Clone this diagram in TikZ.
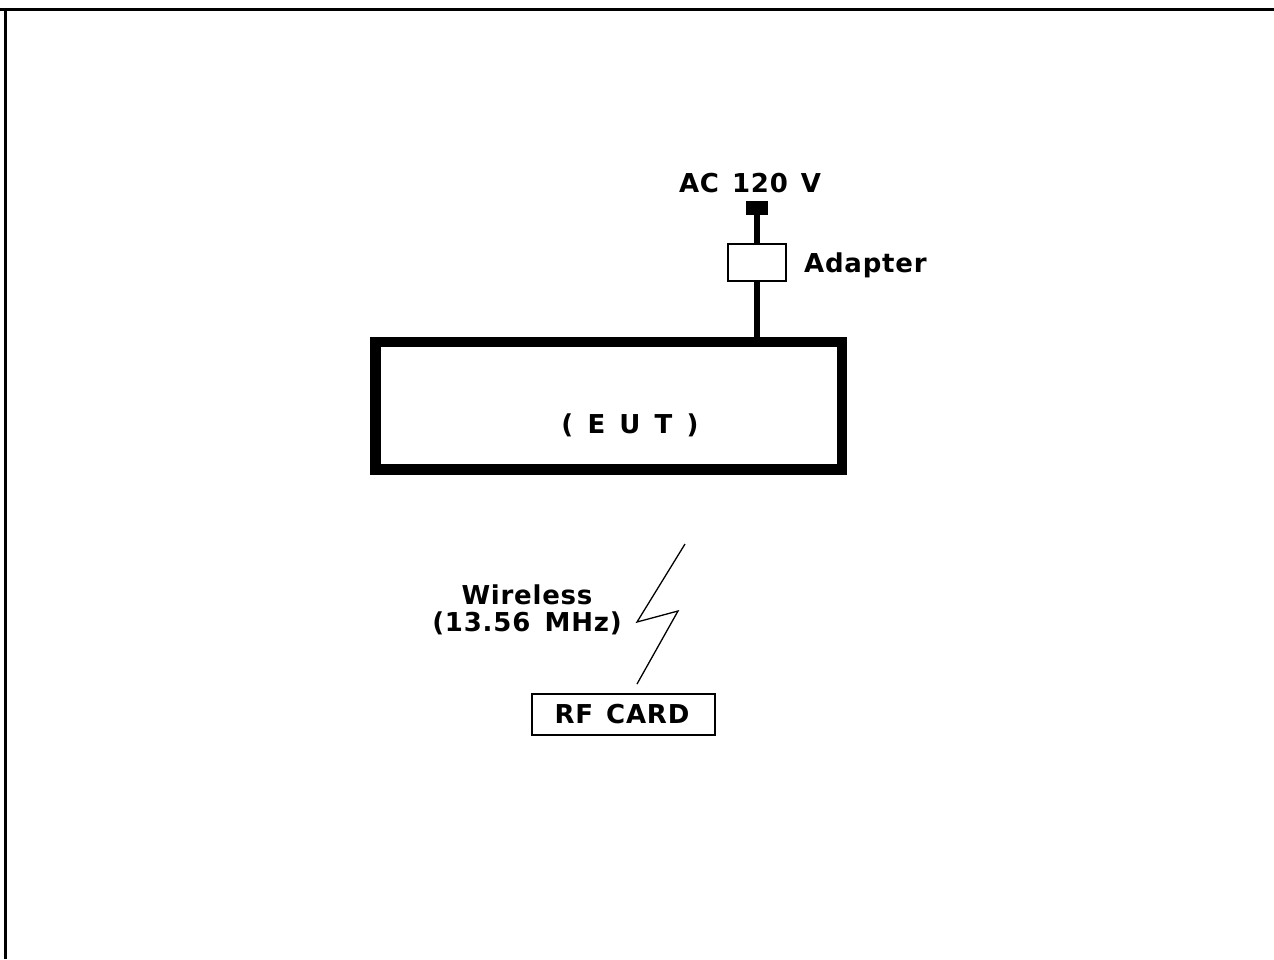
\documentclass[tikz,border=0pt]{standalone}
\usepackage{fontspec}
\setmainfont[LetterSpace=3]{DejaVu Sans}
\begin{document}
\begin{tikzpicture}[x=1pt,y=-1pt,
    lbl/.style={inner sep=0pt, font=\fontsize{26}{30}\selectfont\bfseries},
    thinbox/.style={draw, line width=1.5pt, inner sep=0pt},
    cable/.style={line width=5.5pt}]
    \useasboundingbox (0,0) rectangle (1274,959);

    % frame (top and left only)
    \draw[line width=3pt] (0,9.5) -- (5.5,9.5) -- (5.5,959);
    \draw[line width=3pt] (5.5,9.5) -- (1274,9.5);

    % power side
    \node[fill=black, inner sep=0pt, minimum width=22pt, minimum height=14pt] (plug) at (757,208) {};
    \node[thinbox, minimum width=58pt, minimum height=37pt] (adapter) at (757,262.5) {};
    \node[lbl, anchor=base] (ac) at (750,192) {AC\hspace{0.5em}120\hspace{0.5em}V};
    \node[lbl, anchor=base west] (adaptertxt) at (804,272) {Adapter};

    % equipment under test
    \node[draw, line width=10.5pt, inner sep=0pt, minimum width=466.5pt, minimum height=127.5pt] (eut) at (608.75,405.75) {};
    \node[lbl, anchor=base] (euttxt) at (630,433) {(\,~E\,~U\,~T\,~)};

    \draw[cable] (plug) -- (adapter);
    \draw[cable] (adapter.south) -- (adapter.south |- eut.north);

    % wireless link
    \node[thinbox, minimum width=183pt, minimum height=41pt] (card) at (623.5,714.5) {};
    \node[lbl, anchor=base] (cardtxt) at (622,723) {RF\hspace{0.5em}CARD};
    \node[lbl, anchor=base] (wl) at (527,604) {Wireless};
    \node[lbl, anchor=base] (freq) at (527,631) {(13.56\hspace{0.55em}MHz)};

    \coordinate (zt) at (685,544);
    \coordinate (zl) at (637,622);
    \coordinate (zr) at (678,611);
    \coordinate (zb) at (637,684);
    \draw[line width=1.3pt] (zt) -- (zl) -- (zr) -- (zb);

\end{tikzpicture}
\end{document}
